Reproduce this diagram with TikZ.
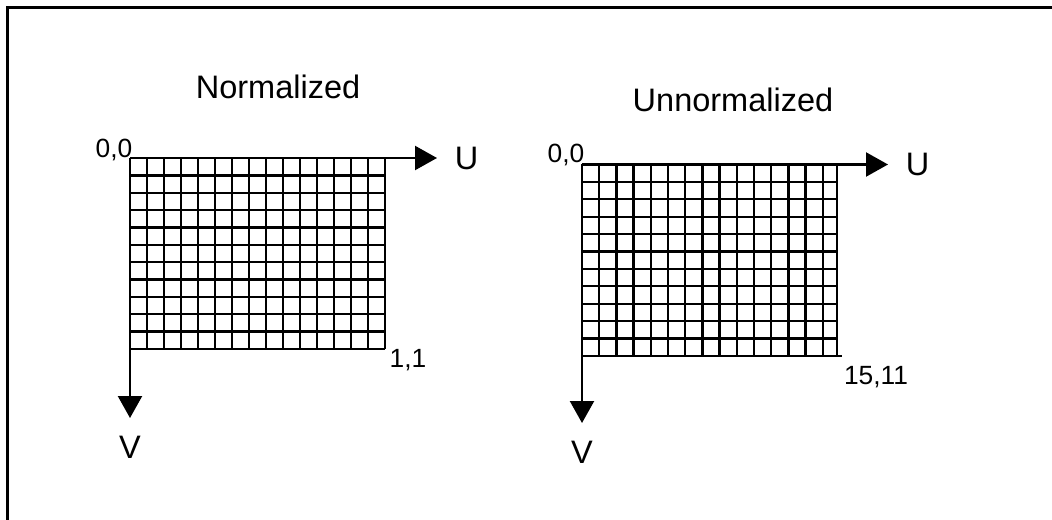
\documentclass[tikz,border=0pt]{standalone}
\usepackage{fontspec}
\setmainfont{Liberation Sans}
\usepackage{tikz}
\usetikzlibrary{arrows.meta, positioning}

\begin{document}
\begin{tikzpicture}[
			x=0.02cm, y=-0.02cm,
			gridline/.style={line width=1.3pt, color=black},
			axis/.style={line width=1.3pt, -{Triangle[length=0.44cm, width=0.48cm]}},
			title/.style={font=\fontsize{18.5}{20}\selectfont, inner sep=0pt},
			corner/.style={font=\fontsize{15}{17}\selectfont, inner sep=0pt}
			]
			\useasboundingbox (0,0) rectangle (1052,520);
			\draw[line width=1.7pt] (7.5,520) |- (1052,7.5);
			
			% normalized
			\node[title] (ntitle) at (278,87) {Normalized};
			\coordinate (norig) at (130,158);
			\coordinate (nutip) at (437,158);
			\coordinate (nvtip) at (130,418);
			\foreach \j in {1,...,11}
				\draw[gridline] (130,158+17.36*\j) -- (385,158+17.36*\j);
			\foreach \i in {1,...,15}
				\draw[gridline] (130+17*\i,158) -- (130+17*\i,349);
			\draw[axis] (norig) -- (nutip);
			\draw[axis] (norig) -- (nvtip);
			\node[title, right=10pt of nutip] (nu) {U};
			\node[title, below=10pt of nvtip] (nv) {V};
			\node[corner] (nzero) at (114,150) {0,0};
			\node[corner] (none) at (408,360) {1,1};
			
			% unnormalized
			\node[title] (utitle) at (733,100) {Unnormalized};
			\coordinate (uorig) at (582,164.5);
			\coordinate (uutip) at (888,164.5);
			\coordinate (uvtip) at (582,423);
			\foreach \j in {1,...,10}
				\draw[gridline] (582,164.5+17.4*\j) -- (836.7,164.5+17.4*\j);
			\draw[gridline] (582,355.7) -- (841.7,355.7);
			\foreach \i in {1,...,14}
				\draw[gridline] (582+17.2*\i,164.5) -- (582+17.2*\i,355.7);
			\draw[gridline] (836.7,164.5) -- (836.7,355.7);
			\draw[axis] (uorig) -- (uutip);
			\draw[axis] (uorig) -- (uvtip);
			\node[title, right=10pt of uutip] (uu) {U};
			\node[title, below=10pt of uvtip] (uv) {V};
			\node[corner] (uzero) at (566,155) {0,0};
			\node[corner] (uend) at (876,377) {15,11};
		\end{tikzpicture}
\end{document}
